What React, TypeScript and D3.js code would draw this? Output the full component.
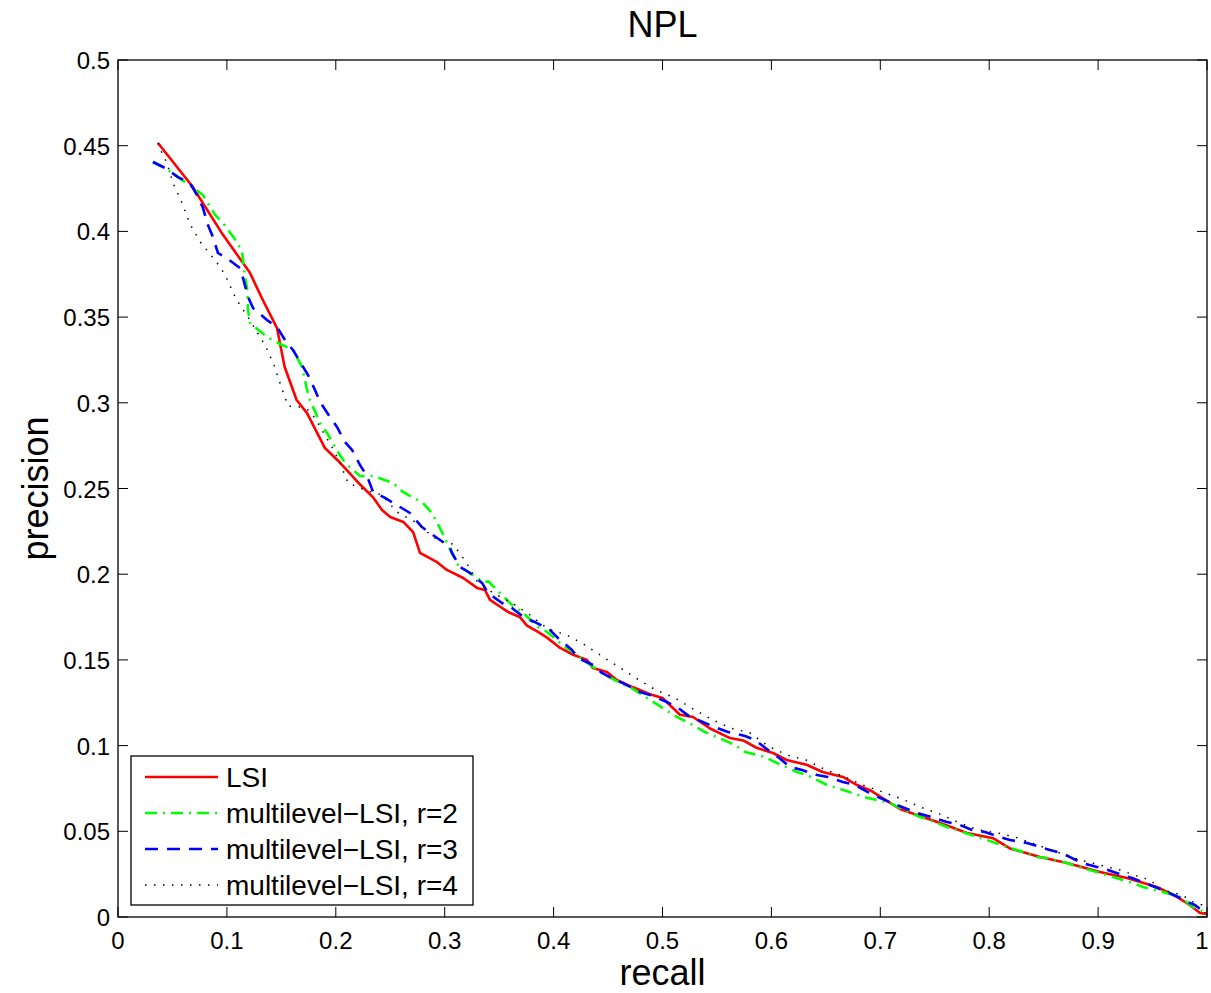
import React from "react";
import * as d3 from "d3";

// recall / precision pairs
const lsi: [number, number][] = [
  [0.0367, 0.4516], [0.068, 0.4265], [0.0964, 0.398], [0.121, 0.376], [0.133, 0.36],
  [0.146, 0.3436], [0.153, 0.321], [0.164, 0.3016], [0.1736, 0.294], [0.19, 0.2736],
  [0.204, 0.265], [0.22, 0.2538], [0.234, 0.245], [0.2424, 0.2375], [0.25, 0.2334],
  [0.262, 0.2305], [0.271, 0.2246], [0.2773, 0.2124], [0.293, 0.207], [0.302, 0.2025],
  [0.317, 0.1978], [0.3297, 0.192], [0.337, 0.1908], [0.3416, 0.185], [0.351, 0.181],
  [0.358, 0.178], [0.369, 0.175], [0.3756, 0.17], [0.3857, 0.1663], [0.394, 0.163],
  [0.406, 0.157], [0.418, 0.153], [0.4307, 0.15], [0.436, 0.1453], [0.449, 0.143],
  [0.458, 0.1383], [0.473, 0.134], [0.4885, 0.13], [0.5, 0.1278], [0.516, 0.118],
  [0.528, 0.1167], [0.5436, 0.11], [0.562, 0.1044], [0.574, 0.103], [0.5868, 0.0986],
  [0.6015, 0.0957], [0.614, 0.0916], [0.633, 0.0887], [0.647, 0.0846], [0.6657, 0.0817],
  [0.6786, 0.077], [0.6906, 0.074], [0.702, 0.0694], [0.718, 0.063], [0.7337, 0.0595],
  [0.755, 0.0548], [0.7796, 0.049], [0.8035, 0.046], [0.819, 0.04], [0.8466, 0.035],
  [0.8714, 0.0315], [0.9017, 0.0263], [0.9265, 0.0228], [0.954, 0.0175], [0.9725, 0.0117],
  [0.984, 0.007], [0.9936, 0.0023], [1.0, 0.0017],
];

const mlsi2: [number, number][] = [
  [0.0321, 0.4405], [0.0432, 0.437], [0.068, 0.4259], [0.078, 0.4212], [0.0891, 0.4096],
  [0.0964, 0.4049], [0.1093, 0.3938], [0.1139, 0.388], [0.1166, 0.3734], [0.1185, 0.367],
  [0.1194, 0.3541], [0.1212, 0.3466], [0.1368, 0.3384], [0.1469, 0.3349], [0.1607, 0.3308],
  [0.169, 0.3209], [0.1736, 0.3075], [0.1763, 0.3016], [0.1855, 0.2882], [0.1919, 0.2824],
  [0.202, 0.2713], [0.2084, 0.2649], [0.2222, 0.2573], [0.2342, 0.2573], [0.2525, 0.2532],
  [0.2617, 0.248], [0.2801, 0.2415], [0.2883, 0.2357], [0.2975, 0.2246], [0.303, 0.217],
  [0.3122, 0.2054], [0.3352, 0.1955], [0.34, 0.1958], [0.348, 0.1908], [0.3618, 0.182],
  [0.371, 0.178], [0.3857, 0.1692], [0.3939, 0.1663], [0.4105, 0.1575], [0.4151, 0.1558],
  [0.4362, 0.1459], [0.4444, 0.1424], [0.461, 0.1365], [0.4702, 0.1342], [0.4885, 0.1266],
  [0.4959, 0.1237], [0.5133, 0.1167], [0.5225, 0.1138], [0.539, 0.1079], [0.55, 0.105],
  [0.5666, 0.1003], [0.5758, 0.0963], [0.5941, 0.0933], [0.6033, 0.0904], [0.6235, 0.0846],
  [0.6327, 0.0828], [0.6511, 0.077], [0.6602, 0.0753], [0.6795, 0.0712], [0.6887, 0.0694],
  [0.7089, 0.0665], [0.7181, 0.0636], [0.7365, 0.0583], [0.7456, 0.0566], [0.7612, 0.0525],
  [0.7704, 0.0508], [0.7888, 0.0467], [0.798, 0.0449], [0.8163, 0.0408], [0.8255, 0.0391],
  [0.8439, 0.035], [0.8531, 0.0344], [0.8714, 0.0315], [0.8769, 0.0303], [0.9017, 0.0257],
  [0.9137, 0.0233], [0.932, 0.0198], [0.9412, 0.0175], [0.9596, 0.0146], [0.9752, 0.0117],
  [0.9871, 0.0058], [1.0, 0.0023],
];

const mlsi3: [number, number][] = [
  [0.0321, 0.4405], [0.0432, 0.437], [0.0551, 0.4317], [0.0661, 0.4282], [0.0735, 0.4201],
  [0.078, 0.4137], [0.0826, 0.4037], [0.0872, 0.3967], [0.0918, 0.3874], [0.101, 0.3839],
  [0.112, 0.3786], [0.1148, 0.3728], [0.1194, 0.3617], [0.124, 0.3553], [0.1368, 0.3483],
  [0.146, 0.3442], [0.1534, 0.3366], [0.1607, 0.3308], [0.169, 0.322], [0.1745, 0.3162],
  [0.1809, 0.3075], [0.1855, 0.3005], [0.1947, 0.2917], [0.2011, 0.2859], [0.2084, 0.2771],
  [0.2149, 0.2725], [0.2222, 0.2637], [0.2287, 0.2573], [0.2342, 0.248], [0.2452, 0.2445],
  [0.259, 0.2392], [0.2681, 0.2357], [0.2791, 0.2275], [0.2865, 0.224], [0.2984, 0.2188],
  [0.3049, 0.2153], [0.3067, 0.2124], [0.314, 0.2042], [0.3232, 0.2007], [0.3343, 0.1949],
  [0.3398, 0.189], [0.3526, 0.1832], [0.3618, 0.1803], [0.3737, 0.1744], [0.3829, 0.1721],
  [0.3967, 0.1674], [0.404, 0.1628], [0.4169, 0.1558], [0.4224, 0.1511], [0.4362, 0.147],
  [0.4444, 0.1424], [0.4564, 0.1383], [0.4637, 0.1365], [0.4793, 0.1313], [0.4885, 0.1295],
  [0.5041, 0.1254], [0.5133, 0.1225], [0.5253, 0.1167], [0.5326, 0.1149], [0.55, 0.1103],
  [0.5601, 0.1079], [0.5758, 0.1056], [0.5849, 0.1033], [0.5969, 0.0974], [0.6061, 0.0933],
  [0.6171, 0.0875], [0.6281, 0.0858], [0.6419, 0.0828], [0.652, 0.0817], [0.6657, 0.0788],
  [0.6768, 0.077], [0.6887, 0.0729], [0.6979, 0.07], [0.7107, 0.0665], [0.7199, 0.0642],
  [0.7337, 0.0607], [0.7475, 0.0583], [0.7612, 0.0554], [0.7732, 0.0537], [0.7842, 0.0508],
  [0.7961, 0.0496], [0.8099, 0.0467], [0.8191, 0.0449], [0.8347, 0.0432], [0.8439, 0.0414],
  [0.8558, 0.0391], [0.8669, 0.0373], [0.876, 0.0344], [0.8852, 0.0315], [0.899, 0.0292],
  [0.9091, 0.0274], [0.9219, 0.0245], [0.9311, 0.0228], [0.9431, 0.0198], [0.9522, 0.0175],
  [0.9633, 0.0146], [0.9734, 0.0117], [0.9816, 0.0088], [0.989, 0.007], [0.9982, 0.0023],
];

const mlsi4: [number, number][] = [
  [0.0367, 0.4516], [0.0404, 0.4457], [0.045, 0.44], [0.0505, 0.4282], [0.0588, 0.4166],
  [0.0661, 0.4043], [0.0762, 0.3932], [0.0891, 0.3833], [0.0955, 0.3775], [0.1001, 0.3722],
  [0.1084, 0.3606], [0.1139, 0.3553], [0.1194, 0.35], [0.1249, 0.3442], [0.135, 0.3337],
  [0.1433, 0.322], [0.1497, 0.3098], [0.1561, 0.2981], [0.1671, 0.2975], [0.1745, 0.2958],
  [0.1809, 0.2911], [0.1855, 0.2859], [0.1965, 0.2742], [0.2039, 0.2649], [0.2112, 0.2532],
  [0.2268, 0.2491], [0.2424, 0.2462], [0.2562, 0.2363], [0.2746, 0.2299], [0.2893, 0.2217],
  [0.2984, 0.2188], [0.3076, 0.2176], [0.3196, 0.2071], [0.3297, 0.196], [0.3444, 0.189],
  [0.3618, 0.1832], [0.3783, 0.1762], [0.3949, 0.168], [0.4123, 0.1645], [0.4288, 0.1587],
  [0.4454, 0.1517], [0.4628, 0.1447], [0.4784, 0.1383], [0.494, 0.1324], [0.5115, 0.1278],
  [0.528, 0.1214], [0.5445, 0.1155], [0.562, 0.1103], [0.5803, 0.1074], [0.5969, 0.0998],
  [0.6143, 0.0945], [0.6318, 0.0916], [0.6501, 0.0858], [0.6676, 0.0817], [0.6841, 0.077],
  [0.7025, 0.0729], [0.7199, 0.0688], [0.7392, 0.0636], [0.7567, 0.0595], [0.7732, 0.0548],
  [0.7897, 0.0508], [0.8081, 0.049], [0.8264, 0.0461], [0.8439, 0.042], [0.8623, 0.0379],
  [0.8834, 0.0333], [0.9017, 0.0303], [0.9201, 0.0274], [0.9385, 0.0233], [0.9477, 0.0216],
  [0.9587, 0.0158], [0.977, 0.0128], [0.9871, 0.0088], [0.9954, 0.007], [0.9982, 0.0023],
];

const xTicks = [0, 0.1, 0.2, 0.3, 0.4, 0.5, 0.6, 0.7, 0.8, 0.9, 1];
const xTickLabels = ["0", "0.1", "0.2", "0.3", "0.4", "0.5", "0.6", "0.7", "0.8", "0.9", "1"];
const yTicks = [0, 0.05, 0.1, 0.15, 0.2, 0.25, 0.3, 0.35, 0.4, 0.45, 0.5];
const yTickLabels = ["0", "0.05", "0.1", "0.15", "0.2", "0.25", "0.3", "0.35", "0.4", "0.45", "0.5"];

const seriesNames = ["LSI", "multilevel\u2212LSI, r=2", "multilevel\u2212LSI, r=3", "multilevel\u2212LSI, r=4"];
const seriesData = [lsi, mlsi2, mlsi3, mlsi4];
const seriesColors = ["#ff0000", "#00ff00", "#0000ff", "#000000"];
const seriesDash = ["none", "12,6,2,6", "13,9", "1.5,7.5"];
const seriesWidth = [2.6, 2.6, 2.6, 1.5];

const FONT = "'Liberation Sans', Arial, Helvetica, sans-serif";

export default function App() {
  const width = 1211;
  const height = 993;
  const margin = { top: 60, right: 4, bottom: 76, left: 118 };
  const x = d3.scaleLinear().domain([0, 1]).range([margin.left, width - margin.right]);
  const y = d3.scaleLinear().domain([0, 0.5]).range([height - margin.bottom, margin.top]);
  const line = d3.line<[number, number]>().x(d => x(d[0])).y(d => y(d[1]));

  const x0 = x(0), x1 = x(1), y0 = y(0), y1 = y(0.5);
  const tick = 10;

  // legend box
  const lg = { x: 131, y: 756, w: 342, h: 149 };
  const rowH = 36;

  return (
    <svg width={width} height={height} style={{ position: "absolute", left: 0, top: 0, background: "#fff" }}
      fontFamily={FONT}>
      <rect x={0} y={0} width={width} height={height} fill="#fff" />
      <text x={(x0 + x1) / 2} y={37} textAnchor="middle" fontSize={36}>NPL</text>

      <defs>
        <clipPath id="plotclip">
          <rect x={x0} y={y1} width={x1 - x0} height={y0 - y1} />
        </clipPath>
      </defs>

      {/* ticks */}
      {xTicks.map((t, i) => (
        <g key={"xt" + i}>
          <line x1={x(t)} x2={x(t)} y1={y0} y2={y0 - tick} stroke="#000" strokeWidth={1} />
          <line x1={x(t)} x2={x(t)} y1={y1} y2={y1 + tick} stroke="#000" strokeWidth={1} />
          <text x={Math.min(x(t), width - 9)} y={y0 + 32} textAnchor="middle" fontSize={24}>{xTickLabels[i]}</text>
        </g>
      ))}
      {yTicks.map((t, i) => (
        <g key={"yt" + i}>
          <line x1={x0} x2={x0 + tick} y1={y(t)} y2={y(t)} stroke="#000" strokeWidth={1} />
          <line x1={x1} x2={x1 - tick} y1={y(t)} y2={y(t)} stroke="#000" strokeWidth={1} />
          <text x={x0 - 8} y={y(t) + 9} textAnchor="end" fontSize={24}>{yTickLabels[i]}</text>
        </g>
      ))}

      {/* series */}
      <g clipPath="url(#plotclip)">
        {seriesData.map((d, i) => (
          <path key={"s" + i} d={line(d) || ""} fill="none" stroke={seriesColors[i]}
            strokeWidth={seriesWidth[i]} strokeDasharray={seriesDash[i]} strokeLinejoin="round" />
        ))}
      </g>

      <rect x={x0} y={y1} width={x1 - x0} height={y0 - y1} fill="none" stroke="#000" strokeWidth={1.3} />

      {/* legend */}
      <rect x={lg.x} y={lg.y} width={lg.w} height={lg.h} fill="#fff" stroke="#000" strokeWidth={1.3} />
      {seriesNames.map((n, i) => {
        const cy = lg.y + 21 + i * rowH;
        return (
          <g key={"lg" + i}>
            <line x1={145} x2={218} y1={cy} y2={cy} stroke={seriesColors[i]} strokeWidth={seriesWidth[i]}
              strokeDasharray={seriesDash[i]} />
            <text x={226} y={cy + 10} fontSize={28}>{n}</text>
          </g>
        );
      })}

      {/* axis labels */}
      <text x={(x0 + x1) / 2} y={985} textAnchor="middle" fontSize={36}>recall</text>
      <text transform={`translate(48, ${(y0 + y1) / 2}) rotate(-90)`} textAnchor="middle" fontSize={36}>precision</text>
    </svg>
  );
}
